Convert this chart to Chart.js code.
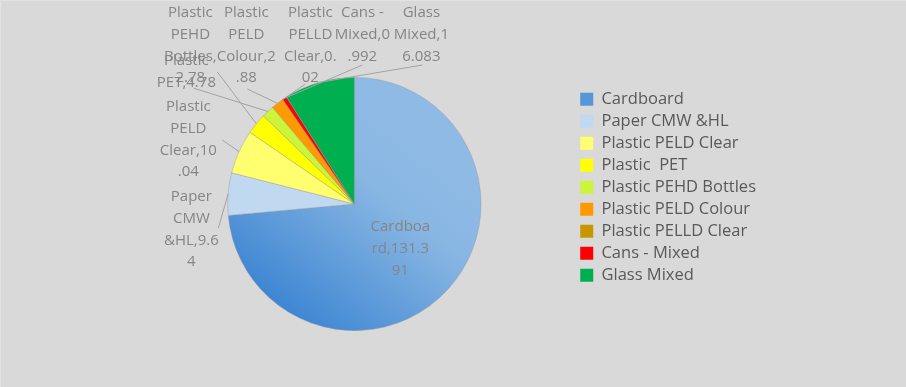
<!DOCTYPE html>
<html><head><meta charset="utf-8">
<script src="https://cdn.jsdelivr.net/npm/chart.js@4/dist/chart.umd.min.js"></script>
<style>html,body{margin:0;padding:0;background:#d9d9d9;} canvas{display:block;}</style>
</head><body>
<canvas id="c" width="906" height="387"></canvas>
<script>
// ---- data ----
const categories = ['Cardboard', 'Paper CMW &HL', 'Plastic PELD Clear', 'Plastic  PET', 'Plastic PEHD Bottles', 'Plastic PELD Colour', 'Plastic PELLD Clear', 'Cans - Mixed', 'Glass Mixed'];
const values = [131.391, 9.64, 10.04, 4.78, 2.78, 2.88, 0.02, 0.992, 16.083];

// ---- styles ----
const colors = ['#5597d8', '#c0d9f0', '#ffff70', '#ffff00', '#ccf53a', '#ff9900', '#c89600', '#ff0000', '#00b050'];

// ---- label layout (offsets from pie centre, px) ----
const labelDX = [46, -163, -166, -168, -164, -108, -44, 8, 67];
const labelDY = [23, -7, -97, -143, -191, -191, -191, -191, -191];
const labelWrap = [63, 59, 59, 64, 58, 61, 58, 57, 57];
const leaderDX = [null, -136, -132, -137, -161, -107, -49, 8, 68];
const leaderDY = [null, 24, -64, -132, -116, -115, -120, -139, -139];
const LINE_H = 21.7;

function cardboardGradient(chart) {
  const a = chart.chartArea;
  if (!a) return colors[0];
  const cx = (a.left + a.right) / 2, cy = (a.top + a.bottom) / 2;
  const r = Math.min(a.width, a.height) / 2;
  const g = chart.ctx.createLinearGradient(cx + 0.45 * r, cy - 0.55 * r, cx - 0.65 * r, cy + 0.8 * r);
  g.addColorStop(0, '#8ebae5');
  g.addColorStop(0.3, '#88b6e3');
  g.addColorStop(1, '#3c85d2');
  return g;
}

function wrap(ctx, text, maxW) {
  const words = text.split(/\s+/);
  const lines = [];
  let cur = '';
  for (const w of words) {
    const test = cur ? cur + ' ' + w : w;
    if (ctx.measureText(test).width <= maxW) { cur = test; continue; }
    if (cur) { lines.push(cur); cur = ''; }
    let rest = w;
    while (ctx.measureText(rest).width > maxW && rest.length > 1) {
      let k = 1;
      while (k < rest.length && ctx.measureText(rest.slice(0, k + 1)).width <= maxW) k++;
      lines.push(rest.slice(0, k));
      rest = rest.slice(k);
    }
    cur = rest;
  }
  if (cur) lines.push(cur);
  return lines;
}

const bgPlugin = {
  id: 'bg',
  beforeDraw(chart) {
    const c = chart.ctx;
    c.save();
    c.fillStyle = '#d9d9d9';
    c.fillRect(0, 0, chart.width, chart.height);
    c.strokeStyle = '#e3e3e3';
    c.lineWidth = 1;
    c.beginPath();
    c.moveTo(0.5, chart.height); c.lineTo(0.5, 0.5); c.lineTo(chart.width, 0.5);
    c.stroke();
    c.restore();
  }
};

const labelPlugin = {
  id: 'sliceLabels',
  afterDatasetsDraw(chart) {
    const c = chart.ctx;
    const meta = chart.getDatasetMeta(0);
    c.save();
    c.font = '15px "Open Sans"';
    c.strokeStyle = '#a3a3a3';
    c.lineWidth = 1;
    meta.data.forEach((arc, i) => {
      if (leaderDX[i] === null) return;
      const p = arc.getProps(['x', 'y', 'startAngle', 'endAngle', 'outerRadius'], true);
      const mid = (p.startAngle + p.endAngle) / 2;
      c.beginPath();
      c.moveTo(p.x + leaderDX[i], p.y + leaderDY[i]);
      c.lineTo(p.x + Math.cos(mid) * p.outerRadius, p.y + Math.sin(mid) * p.outerRadius);
      c.stroke();
    });
    c.fillStyle = '#858585';
    c.textAlign = 'center';
    c.textBaseline = 'middle';
    meta.data.forEach((arc, i) => {
      const p = arc.getProps(['x', 'y'], true);
      const lines = wrap(c, categories[i] + ',' + values[i], labelWrap[i]);
      lines.forEach((ln, k) => c.fillText(ln, p.x + labelDX[i], p.y + labelDY[i] + k * LINE_H));
    });
    c.restore();
  }
};

new Chart(document.getElementById('c'), {
  type: 'pie',
  data: {
    labels: categories,
    datasets: [{
      data: values,
      backgroundColor: (ctx) => ctx.dataIndex === 0 ? cardboardGradient(ctx.chart) : colors[ctx.dataIndex],
      borderColor: 'rgba(150,150,150,0.55)',
      borderWidth: 0.75
    }]
  },
  options: {
    responsive: false,
    animation: false,
    layout: { padding: { top: 77, bottom: 56, left: 134, right: 140 } },
    plugins: {
      tooltip: { enabled: false },
      legend: {
        position: 'right',
        align: 'start',
        title: { display: true, text: '', font: { size: 5 }, padding: { top: 2.5, bottom: 0 } },
        labels: {
          font: { family: '"Open Sans"', size: 16.5 },
          color: '#595959',
          boxWidth: 13,
          boxHeight: 13,
          padding: 5.5,
          generateLabels: () => categories.map((t, i) => ({
            text: t, fillStyle: colors[i], strokeStyle: colors[i], lineWidth: 0,
            hidden: false, index: i, fontColor: '#595959'
          }))
        }
      }
    }
  },
  plugins: [bgPlugin, labelPlugin]
});
</script>
</body></html>
